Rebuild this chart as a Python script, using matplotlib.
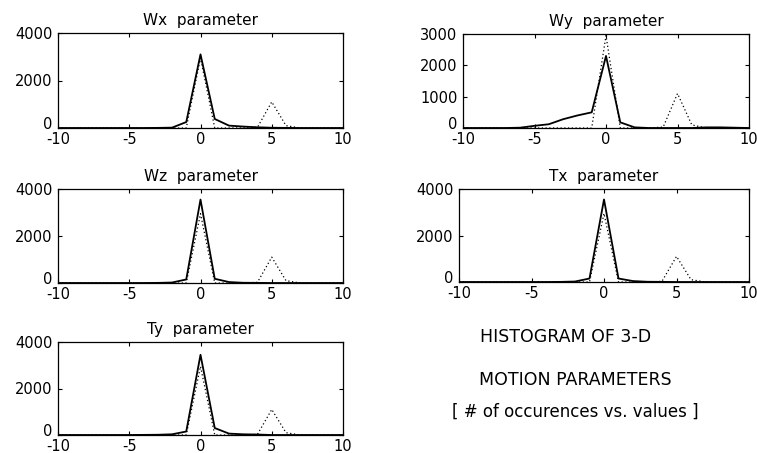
import matplotlib
matplotlib.use("Agg")
import matplotlib.pyplot as plt
import matplotlib.transforms as mtransforms

# bin centres and counts
bins = list(range(-10, 11))

wx = [0, 0, 0, 0, 0, 0, 0, 5, 15, 250, 3100, 380, 100, 60, 30, 10, 5, 0, 0, 0, 0]
wy = [0, 0, 0, 0, 10, 70, 120, 280, 400, 500, 2300, 180, 20, 0, 0, 0, 0, 20, 20, 10, 0]
wz = [0, 0, 0, 0, 0, 0, 0, 5, 20, 150, 3550, 180, 40, 10, 5, 0, 0, 0, 0, 0, 0]
tx = [0, 0, 0, 0, 0, 0, 0, 5, 20, 150, 3550, 150, 40, 10, 5, 0, 0, 0, 0, 0, 0]
ty = [0, 0, 0, 0, 0, 0, 5, 10, 30, 150, 3450, 300, 60, 30, 20, 0, 0, 0, 0, 0, 0]
# dotted reference histogram (same in every panel)
ref = [0, 0, 0, 0, 0, 0, 0, 0, 0, 0, 2950, 0, 0, 0, 30, 1100, 100, 0, 0, 0, 0]

titles = ["Wx  parameter", "Wy  parameter", "Wz  parameter", "Tx  parameter", "Ty  parameter"]
series = [wx, wy, wz, tx, ty]
ymax = [4000, 3000, 4000, 4000, 4000]
yticks = [[0, 2000, 4000], [0, 1000, 2000, 3000], [0, 2000, 4000], [0, 2000, 4000], [0, 2000, 4000]]
xticks = [-10, -5, 0, 5, 10]

plt.rcParams['font.family'] = ['DejaVu Sans']
plt.rcParams['axes.unicode_minus'] = False

W, H = 757, 453
# axes boxes in pixels: left, right, top, bottom
boxes = [(58, 343, 33, 128), (463, 749, 34, 128),
         (58, 343, 189, 283), (459, 749, 189, 282),
         (58, 343, 342, 435)]

fig = plt.figure(figsize=(W / 100, H / 100), dpi=100)
lift = mtransforms.ScaledTranslation(0, 5 / 100, fig.dpi_scale_trans)

for (l, r, t, b), title, y, ym, yt in zip(boxes, titles, series, ymax, yticks):
    ax = fig.add_axes([l / W, (H - b) / H, (r - l) / W, (b - t) / H])
    ax.plot(bins, ref, color='black', linestyle=(0, (1, 2)), linewidth=0.9)
    ax.plot(bins, y, color='black', linewidth=1.3)
    ax.set_xlim(-10, 10)
    ax.set_ylim(0, ym)
    ax.set_xticks(xticks)
    ax.set_yticks(yt)
    ax.tick_params(direction='in', top=True, right=True, length=3, width=0.8,
                   labelsize=10.5)
    ax.tick_params(axis='x', pad=3)
    ax.tick_params(axis='y', pad=4)
    # matlab puts the bottom "0" a little above the axis line
    lab0 = ax.yaxis.get_major_ticks()[0].label1
    lab0.set_transform(lab0.get_transform() + lift)
    for s in ax.spines.values():
        s.set_linewidth(0.9)
    ax.set_title(title, fontsize=11, pad=6)

fig.text(480 / W, 1 - 337 / H, "HISTOGRAM OF 3-D", fontsize=12.5, va='center', ha='left')
fig.text(479 / W, 1 - 380 / H, "MOTION PARAMETERS", fontsize=12.5, va='center', ha='left')
fig.text(452 / W, 1 - 412 / H, "[ # of occurences vs. values ]", fontsize=12, va='center', ha='left')

fig.savefig("out.png", dpi=100)
